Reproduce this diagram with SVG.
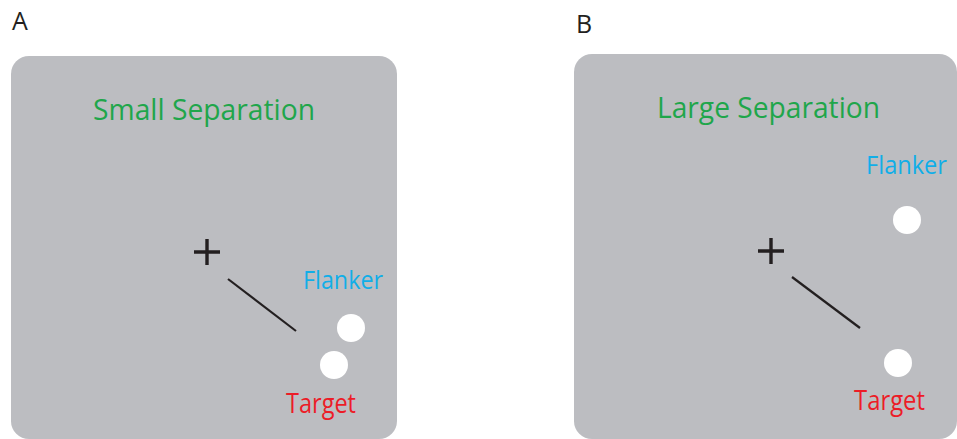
<svg xmlns="http://www.w3.org/2000/svg" width="957" height="439" viewBox="0 0 957 439">
<style>
.panel{fill:#bcbdc1}
.lbl{font-family:"Open Sans","Liberation Sans",sans-serif;font-size:25px;fill:#231f20}
.title{font-family:"Open Sans","Liberation Sans",sans-serif;font-size:30px;fill:#1fa64b}
.fl{font-family:"Open Sans","Liberation Sans",sans-serif;font-size:26px;fill:#10aee8}
.tg{font-family:"Open Sans","Liberation Sans",sans-serif;font-size:28px;fill:#ec1c27}
.dot{fill:#ffffff}
.fix{stroke:#231f20;stroke-width:3.4;fill:none}
.conn{stroke:#231f20;stroke-width:2.2;fill:none}
</style>
<g id="panelA">
<text class="lbl" x="12" y="30">A</text>
<path class="panel" d="M29 56H379A18 18 0 0 1 397 74V421A18 18 0 0 1 379 439H29A18 18 0 0 1 11 421V74A18 18 0 0 1 29 56Z"/>
<text class="title" x="93" y="120" textLength="222" lengthAdjust="spacingAndGlyphs">Small Separation</text>
<g id="fixA"><path class="fix" d="M194 252H220M207 239V265"/></g>
<g id="flankerA"><circle class="dot" cx="351" cy="328" r="14"/><text class="fl" x="303" y="289" textLength="80" lengthAdjust="spacingAndGlyphs">Flanker</text></g>
<g id="targetA"><circle class="dot" cx="334" cy="365" r="14"/><text class="tg" x="286" y="413" textLength="70" lengthAdjust="spacingAndGlyphs">Target</text></g>
</g>
<g id="panelB">
<text class="lbl" x="576" y="33">B</text>
<path class="panel" d="M592 54H939A18 18 0 0 1 957 72V421A18 18 0 0 1 939 439H592A18 18 0 0 1 574 421V72A18 18 0 0 1 592 54Z"/>
<text class="title" x="657" y="118" textLength="223" lengthAdjust="spacingAndGlyphs">Large Separation</text>
<g id="fixB"><path class="fix" d="M758 251H784M771 238V264"/></g>
<g id="flankerB"><circle class="dot" cx="907" cy="220" r="14"/><text class="fl" x="866" y="174" textLength="81" lengthAdjust="spacingAndGlyphs">Flanker</text></g>
<g id="targetB"><circle class="dot" cx="898" cy="363" r="14"/><text class="tg" x="854" y="410" textLength="71" lengthAdjust="spacingAndGlyphs">Target</text></g>
</g>
<g id="connectors">
<line class="conn" x1="228" y1="279" x2="296" y2="331"/>
<line class="conn" x1="792" y1="277" x2="860" y2="328"/>
</g>
</svg>
